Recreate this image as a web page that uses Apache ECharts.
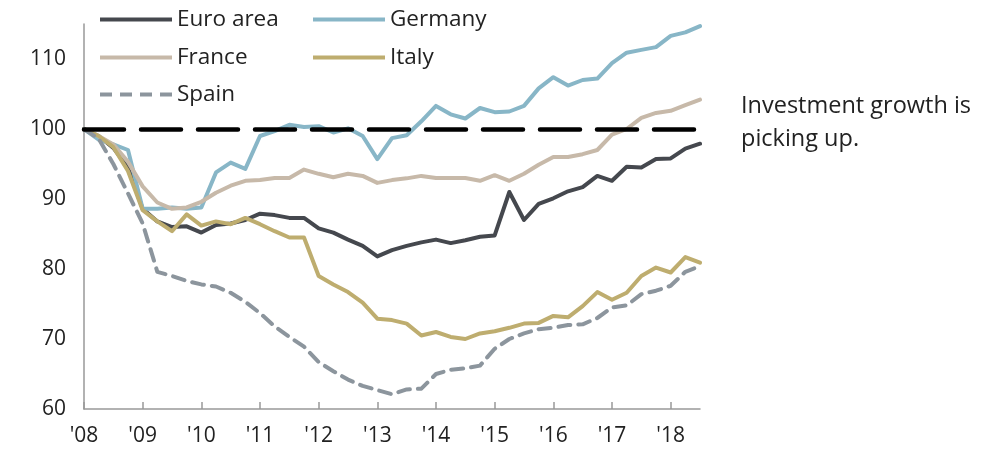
<!DOCTYPE html>
<html>
<head>
<meta charset="utf-8">
<script src="https://cdn.jsdelivr.net/npm/echarts@6/dist/echarts.min.js"></script>
<style>
html, body { margin: 0; padding: 0; background: #fff; }
#chart { width: 993px; height: 453px; }
</style>
</head>
<body>
<div id="chart"></div>
<script>
// quarterly index, 2008Q1 = 100
var yearLabels = ["'08", "'09", "'10", "'11", "'12", "'13", "'14", "'15", "'16", "'17", "'18"];
var quarters = [];
for (var y = 2008; y <= 2018; y++) {
	for (var q = 1; q <= 4; q++) {
		if (y === 2018 && q === 4) break;
		quarters.push(y + 'Q' + q);
	}
}

var euroArea = [100, 99, 97.3, 94.5, 88.6, 86.8, 86, 86.1, 85.2, 86.3, 86.5, 87, 87.9, 87.7, 87.3, 87.3, 85.8, 85.2, 84.2, 83.3, 81.8, 82.7, 83.3, 83.8, 84.2, 83.7, 84.1, 84.6, 84.8, 91, 87, 89.3, 90.1, 91.1, 91.7, 93.3, 92.6, 94.6, 94.5, 95.7, 95.8, 97.2, 97.9];
var germany = [100, 98.5, 97.8, 97, 88.6, 88.6, 88.8, 88.6, 88.8, 93.8, 95.2, 94.3, 99, 99.7, 100.6, 100.3, 100.4, 99.5, 100.1, 99, 95.7, 98.7, 99.1, 101.1, 103.3, 102.1, 101.5, 103, 102.4, 102.5, 103.3, 105.8, 107.4, 106.2, 107, 107.2, 109.4, 110.9, 111.3, 111.7, 113.3, 113.8, 114.7];
var france = [100, 99, 97.8, 95.3, 91.8, 89.5, 88.6, 88.8, 89.6, 90.9, 91.9, 92.6, 92.7, 93, 93, 94.2, 93.6, 93.1, 93.6, 93.3, 92.3, 92.7, 92.95, 93.3, 93, 93, 93, 92.6, 93.4, 92.6, 93.6, 94.9, 96, 96, 96.4, 97, 99.2, 100, 101.6, 102.3, 102.6, 103.4, 104.2];
var italy = [100, 99, 97.4, 94, 88.4, 86.8, 85.4, 87.8, 86.2, 86.8, 86.4, 87.3, 86.4, 85.4, 84.5, 84.5, 79, 77.8, 76.7, 75.2, 72.9, 72.7, 72.2, 70.5, 71, 70.3, 70, 70.8, 71.1, 71.6, 72.2, 72.3, 73.3, 73.1, 74.7, 76.7, 75.6, 76.6, 79, 80.2, 79.5, 81.7, 80.9];
var spain = [100, 98.6, 95, 90.8, 86.5, 79.6, 79, 78.3, 77.8, 77.5, 76.6, 75.3, 73.7, 71.8, 70.3, 68.9, 66.7, 65.4, 64.2, 63.3, 62.7, 62.1, 62.8, 62.9, 65, 65.6, 65.8, 66.2, 68.6, 70, 70.8, 71.4, 71.6, 72, 72.1, 73, 74.5, 74.8, 76.4, 76.9, 77.6, 79.6, 80.4];
var baseLine = 100;

var FONT = '"Open Sans"';
var colors = {
	'Euro area': '#45484e',
	'Germany': '#88b6c7',
	'France': '#c7b9a9',
	'Italy': '#bead6f',
	'Spain': '#8c959d'
};

var myChart = echarts.init(document.getElementById('chart'));

function legendAt(name, left, top, dashed) {
	return {
		data: [name],
		left: left,
		top: top,
		itemWidth: 72,
		itemHeight: 4,
		itemGap: 0,
		padding: 0,
		icon: dashed ? 'path://M0,0h12v4h-12z M20,0h12v4h-12z M40,0h12v4h-12z M60,0h12v4h-12z' : 'path://M0,0h72v4h-72z',
		itemStyle: { opacity: 1 },
		textStyle: { fontFamily: FONT, fontSize: 22.5, color: '#222' },
		selectedMode: false
	};
}

function lineSeries(name, data, dashed) {
	return {
		name: name,
		type: 'line',
		data: data,
		symbol: 'none',
		smooth: false,
		lineStyle: {
			color: colors[name],
			width: 4,
			type: dashed ? [12, 8] : 'solid',
			cap: 'round',
			join: 'round'
		},
		itemStyle: { color: colors[name] }
	};
}

var spainSeries = lineSeries('Spain', spain, true);
spainSeries.markLine = {
	silent: true,
	symbol: 'none',
	label: { show: false },
	lineStyle: { color: '#000', width: 4.5, type: [40, 17], cap: 'round' },
	data: [{ yAxis: baseLine }]
};

var option = {
	animation: false,
	grid: { left: 84, right: 293, top: 24, bottom: 44, containLabel: false },
	legend: [
		legendAt('Euro area', 100, 8, false),
		legendAt('Germany', 313, 8, false),
		legendAt('France', 100, 46, false),
		legendAt('Italy', 313, 46, false),
		legendAt('Spain', 100, 83, true)
	],
	xAxis: {
		type: 'category',
		data: quarters,
		boundaryGap: false,
		axisLine: { lineStyle: { color: '#999', width: 1.5 } },
		axisTick: { show: true, inside: true, length: 7, interval: 3, lineStyle: { color: '#999', width: 1.5 } },
		axisLabel: {
			interval: 3,
			margin: 17,
			fontFamily: FONT,
			fontSize: 21,
			color: '#222',
			formatter: function (v, i) { return yearLabels[Math.round(i / 4)]; }
		},
		splitLine: { show: false }
	},
	yAxis: {
		type: 'value',
		min: 60,
		max: 115,
		interval: 10,
		axisLine: { show: true, lineStyle: { color: '#999', width: 1.5 } },
		axisTick: { show: false },
		axisLabel: { margin: 18, fontFamily: FONT, fontSize: 21, color: '#222', showMaxLabel: false },
		splitLine: { show: false }
	},
	graphic: [
		{
			type: 'text',
			left: 741,
			top: 90,
			style: {
				text: 'Investment growth is\npicking up.',
				fontFamily: FONT,
				fontSize: 23.5,
				lineHeight: 33,
				fill: '#222'
			}
		}
	],
	series: [
		lineSeries('Euro area', euroArea, false),
		lineSeries('Germany', germany, false),
		lineSeries('France', france, false),
		lineSeries('Italy', italy, false),
		spainSeries
	]
};

myChart.setOption(option);
</script>
</body>
</html>
